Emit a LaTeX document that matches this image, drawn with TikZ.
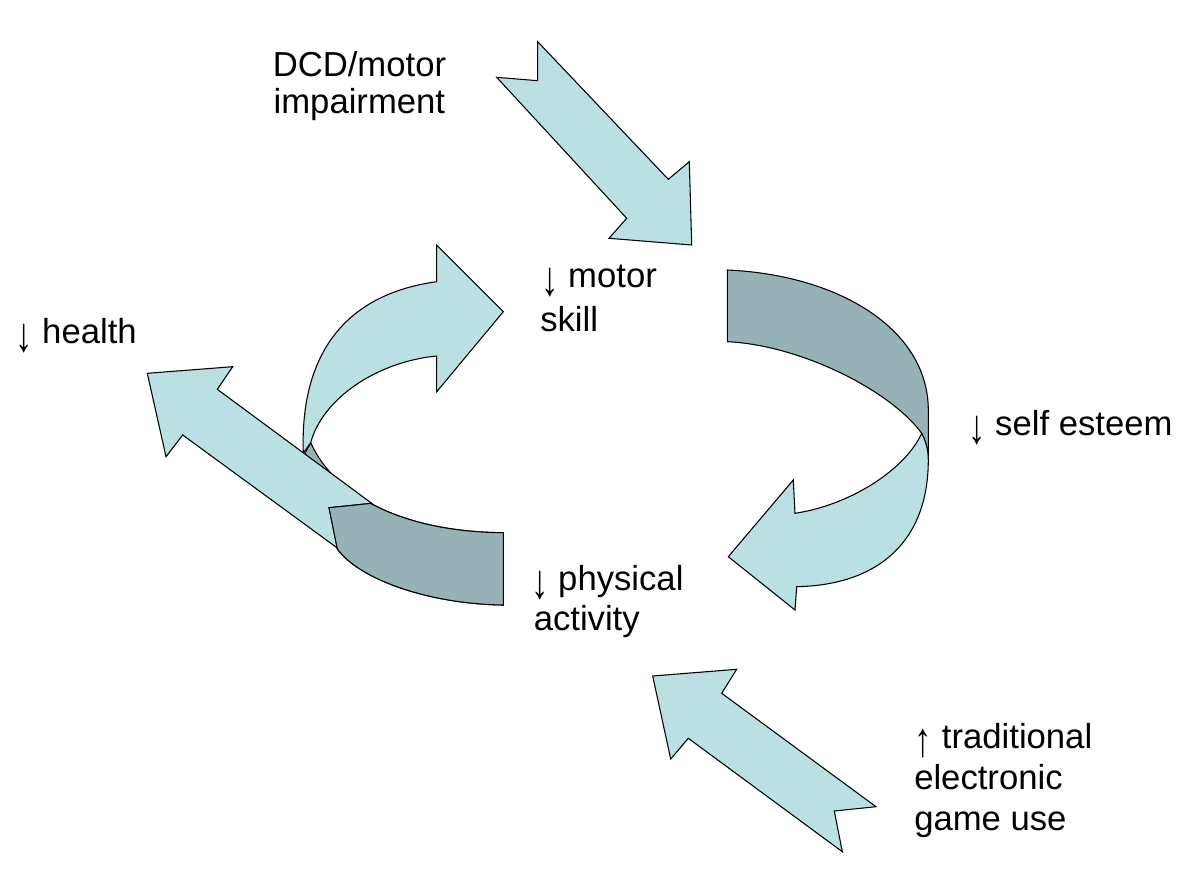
\documentclass[tikz,border=0pt]{standalone}
\usepackage{graphicx}
\usepackage{fontspec}
\setmainfont{Liberation Sans}
\definecolor{lightfill}{RGB}{187,224,227}
\definecolor{darkfill}{RGB}{150,178,182}
\newcommand\arrdown{\raisebox{-0.25em}{\scalebox{1}[1.4]{↓}}}
\newcommand\arrup{\raisebox{-0.25em}{\scalebox{1}[1.4]{↑}}}
\begin{document}
\begin{tikzpicture}[x=0.75pt,y=-0.75pt,
  light/.style={fill=lightfill,draw=black,line width=0.8pt,line join=miter},
  dark/.style={fill=darkfill,draw=black,line width=0.8pt,line join=miter},
  edge/.style={draw=black,line width=0.8pt},
  lbl/.style={anchor=base west,inner sep=0pt,font=\fontsize{26}{30}\selectfont}]
\useasboundingbox (0,0) rectangle (1200,889);

% arrow from DCD/motor impairment
\draw[light] (537.7,41.7) -- (668.3,179.3) -- (689.3,161.7) -- (691.7,245) -- (609,238.3) -- (626.7,218.3) -- (496.7,77.3) -- (537.7,80.7) -- cycle;

% arrow from traditional electronic game use
\draw[light] (652.7,676) -- (736.7,669.3) -- (721.7,693.3) -- (876,806.7) -- (834.3,811) -- (842.3,851.7) -- (688.3,738.3) -- (670.7,759) -- cycle;

% right curved arrow (self esteem)
\draw[dark] (727.3,270) .. controls (840,275) and (928.3,330) .. (928.3,410) -- (928.3,456.7) .. controls (927,446) and (925,440) .. (921.7,433.3) .. controls (890,390) and (800,345) .. (727.3,341.7) -- cycle;
\draw[light] (921.7,433.3) .. controls (925,440) and (928.3,448) .. (928.3,460) .. controls (928.3,540) and (880,585) .. (796.7,586.7) -- (795,610) -- (728.3,556.7) -- (793.3,480) -- (795,513.3) .. controls (850,505) and (905,470) .. (921.7,433.3) -- cycle;

% left curved arrow: back band
\def\bandpath{(310.7,442.7) .. controls (335,497) and (405,532) .. (503.3,532.7) -- (503.3,605) .. controls (430,604) and (360,580) .. (337.3,549) -- (305,453.3) -- cycle}
\draw[dark] \bandpath;
% left curved arrow: front part with head
\draw[light] (303.3,453) .. controls (300,360) and (340,295) .. (436.7,281.7) -- (436.7,245) -- (503.3,311.7) -- (436.7,391.7) -- (436.7,356) .. controls (375,362) and (322,400) .. (310.7,442.7) -- cycle;

% arrow to health
\draw[light] (147.3,373.3) -- (232.7,366.7) -- (217.3,389.3) -- (371.7,503.3) -- (329,507.7) -- (337.3,548) -- (182.7,435) -- (166,456.7) -- cycle;

% front piece of the band over the health arrow
\begin{scope}
  \clip (420,498.3) -- (371.7,503.3) -- (329,507.7) -- (337.3,549) -- (347.3,600) -- (520,650) -- (520,480) -- (420,480) -- cycle;
  \draw[dark] \bandpath;
\end{scope}
\draw[edge] (371.7,503.3) -- (329,507.7) -- (337.3,549);

% labels
\node[lbl] (dcd1) at (272.5,76) {DCD/motor};
\node[lbl] (dcd2) at (273.4,113) {impairment};
\node[lbl] (health) at (15,343) {\arrdown{} health};
\node[lbl] (motor1) at (541,287) {\arrdown{} motor};
\node[lbl] (motor2) at (540,331) {skill};
\node[lbl] (esteem) at (968,435) {\arrdown{} self esteem};
\node[lbl] (pa1) at (531,590) {\arrdown{} physical};
\node[lbl] (pa2) at (533.5,630) {activity};
\node[lbl] (game1) at (914.7,748) {\arrup{} traditional};
\node[lbl] (game2) at (914,789) {electronic};
\node[lbl] (game3) at (914,830) {game use};
\end{tikzpicture}
\end{document}
